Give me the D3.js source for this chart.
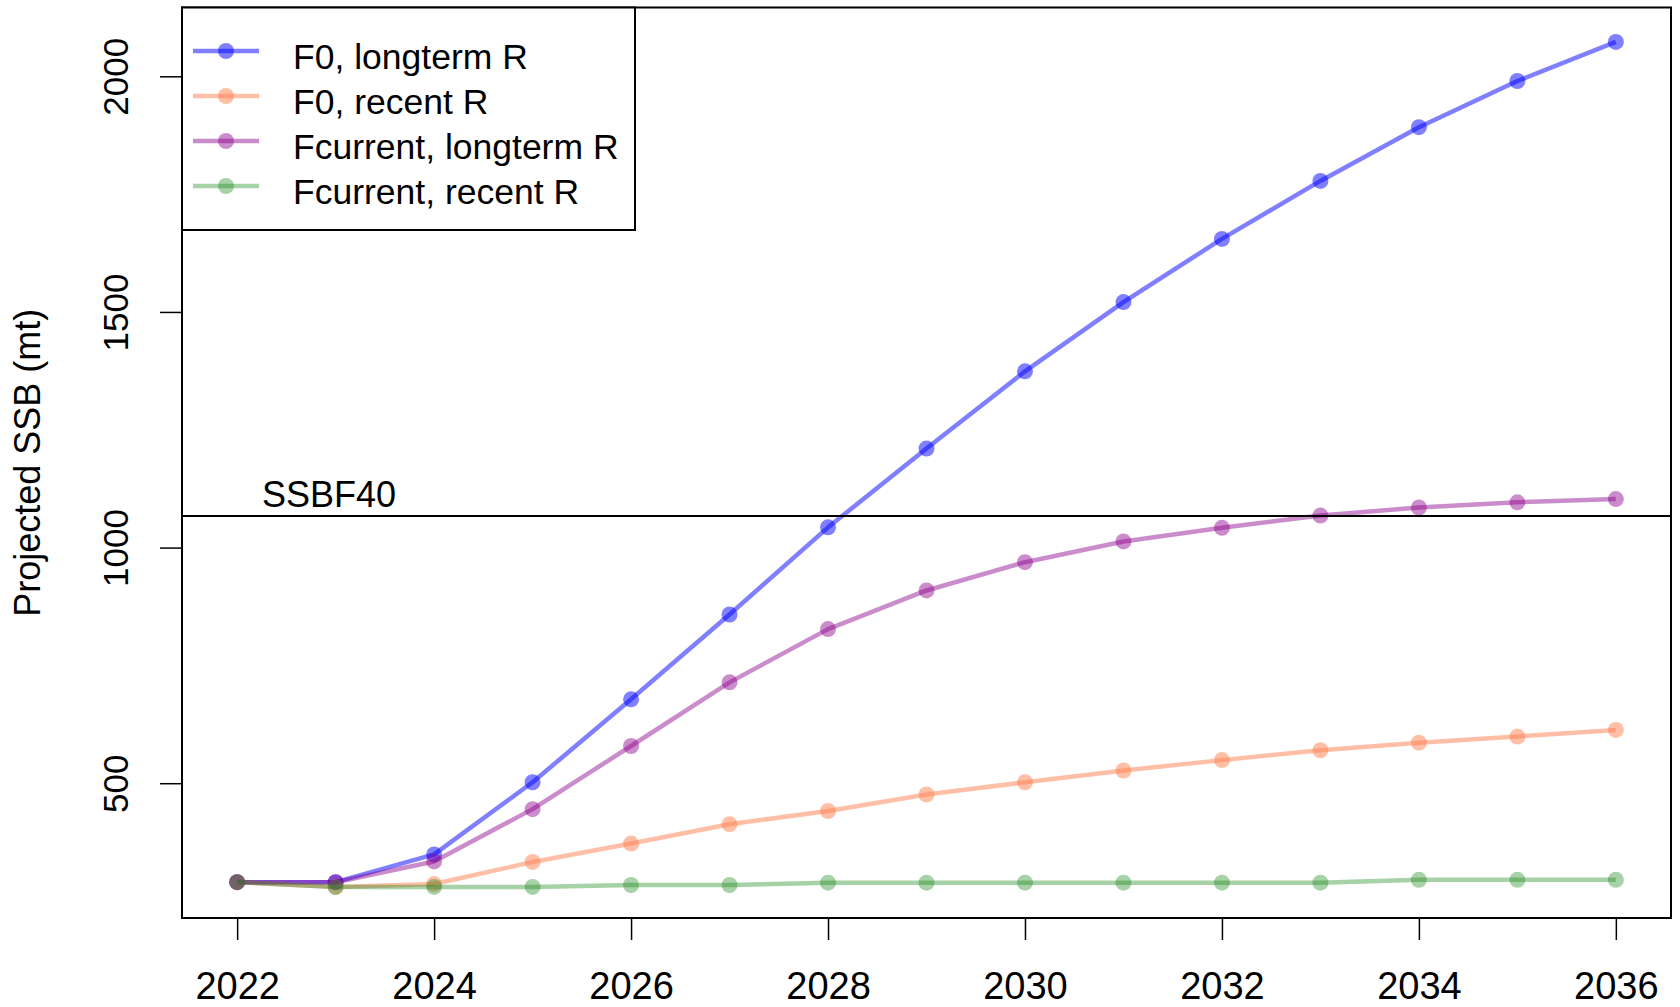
<!DOCTYPE html>
<html>
<head>
<meta charset="utf-8">
<script src="https://cdn.jsdelivr.net/npm/d3@7"></script>
<style>
  html, body { margin: 0; padding: 0; background: #fff; }
  svg { display: block; }
  text { font-family: "Liberation Sans", Arial, sans-serif; fill: #000; }
</style>
</head>
<body>
<svg id="chart" width="1680" height="1007"></svg>
<script>
// Projection years and SSB series (mt)
const years = [2022, 2023, 2024, 2025, 2026, 2027, 2028, 2029, 2030, 2031, 2032, 2033, 2034, 2035, 2036];
const f0Longterm = [290, 290, 349, 502, 678, 858, 1043, 1210, 1374, 1521, 1655, 1778, 1892, 1990, 2073];
const f0Recent = [290, 280, 286, 333, 372, 413, 441, 476, 502, 527, 549, 570, 586, 599, 613];
const fcurLongterm = [290, 290, 334, 445, 579, 714, 827, 909, 969, 1013, 1042, 1068, 1085, 1096, 1103];
const fcurRecent = [290, 280, 280, 280, 284, 284, 289, 289, 289, 289, 289, 289, 295, 295, 295];
const seriesNames = ["F0, longterm R", "F0, recent R", "Fcurrent, longterm R", "Fcurrent, recent R"];
const seriesColors = ["#0000FF", "#FF7F50", "#8B008B", "#228B22"];
const seriesAlpha = [0.5, 0.5, 0.45, 0.4];
const ssbF40 = 1067;
const ssbLabel = "SSBF40";
const xTicks = [2022, 2024, 2026, 2028, 2030, 2032, 2034, 2036];
const yTicks = [500, 1000, 1500, 2000];
const yTitle = "Projected SSB (mt)";

const allSeries = [f0Longterm, f0Recent, fcurLongterm, fcurRecent];

const plot = { left: 182, right: 1671, top: 7.5, bottom: 918 };
const svg = d3.select("#chart");

const x = d3.scaleLinear().domain([2021.44, 2036.56]).range([plot.left, plot.right]);
const y = d3.scaleLinear().domain([214, 2146]).range([plot.bottom, plot.top]);

// Series lines and points
const line = d3.line().x((d, i) => x(years[i])).y(d => y(d));
allSeries.forEach((vals, k) => {
  const g = svg.append("g");
  g.append("path")
    .attr("d", line(vals))
    .attr("fill", "none")
    .attr("stroke", seriesColors[k])
    .attr("stroke-opacity", seriesAlpha[k])
    .attr("stroke-width", 4.5)
    .attr("stroke-linejoin", "round");
  g.selectAll("circle").data(vals).join("circle")
    .attr("cx", (d, i) => x(years[i]))
    .attr("cy", d => y(d))
    .attr("r", 8)
    .attr("fill", seriesColors[k])
    .attr("fill-opacity", seriesAlpha[k]);
});

// Reference line
svg.append("line")
  .attr("x1", plot.left).attr("x2", plot.right)
  .attr("y1", y(ssbF40)).attr("y2", y(ssbF40))
  .attr("stroke", "#000").attr("stroke-width", 2);
svg.append("text")
  .attr("x", 262).attr("y", y(ssbF40) - 9)
  .attr("font-size", 36)
  .text(ssbLabel);

// Plot frame
svg.append("rect")
  .attr("x", plot.left).attr("y", plot.top)
  .attr("width", plot.right - plot.left).attr("height", plot.bottom - plot.top)
  .attr("fill", "none").attr("stroke", "#000").attr("stroke-width", 2);

// X axis
const xAxis = svg.append("g").attr("transform", `translate(0,${plot.bottom})`)
  .call(d3.axisBottom(x).tickValues(xTicks).tickFormat(d3.format("d")).tickSizeInner(22).tickSizeOuter(0).tickPadding(0));
xAxis.select(".domain").remove();
xAxis.selectAll(".tick line").attr("stroke", "#000").attr("stroke-width", 1.5);
xAxis.selectAll(".tick text")
  .attr("y", 81).attr("dy", null)
  .attr("font-size", 38)
  .attr("font-family", "'Liberation Sans', Arial, sans-serif")
  .attr("fill", "#000");

// Y axis
const yAxis = svg.append("g").attr("transform", `translate(${plot.left},0)`)
  .call(d3.axisLeft(y).tickValues(yTicks).tickFormat(d3.format("d")).tickSizeInner(22).tickSizeOuter(0));
yAxis.select(".domain").remove();
yAxis.selectAll(".tick line").attr("stroke", "#000").attr("stroke-width", 1.5);
yAxis.selectAll(".tick text")
  .attr("x", null).attr("dy", null)
  .attr("transform", "translate(-54,0) rotate(-90)")
  .attr("text-anchor", "middle")
  .attr("font-size", 35)
  .attr("font-family", "'Liberation Sans', Arial, sans-serif")
  .attr("fill", "#000");

svg.append("text")
  .attr("transform", `translate(40,${(plot.top + plot.bottom) / 2}) rotate(-90)`)
  .attr("text-anchor", "middle")
  .attr("font-size", 36)
  .text(yTitle);

// Legend
const legend = svg.append("g");
legend.append("rect")
  .attr("x", plot.left).attr("y", plot.top)
  .attr("width", 635 - plot.left).attr("height", 230 - plot.top)
  .attr("fill", "#fff").attr("stroke", "#000").attr("stroke-width", 2);
const rowY = d3.scaleLinear().domain([0, 3]).range([51, 186]);
seriesNames.forEach((name, k) => {
  const ry = rowY(k);
  legend.append("line")
    .attr("x1", 193).attr("x2", 259).attr("y1", ry).attr("y2", ry)
    .attr("stroke", seriesColors[k]).attr("stroke-opacity", seriesAlpha[k]).attr("stroke-width", 4.5);
  legend.append("circle")
    .attr("cx", 226).attr("cy", ry).attr("r", 8)
    .attr("fill", seriesColors[k]).attr("fill-opacity", seriesAlpha[k]);
  legend.append("text")
    .attr("x", 293).attr("y", ry + 18)
    .attr("font-size", 35.5)
    .text(name);
});
</script>
</body>
</html>
